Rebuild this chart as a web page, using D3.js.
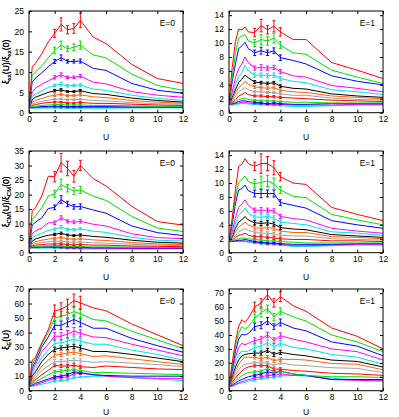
<!DOCTYPE html>
<html><head><meta charset="utf-8">
<script src="https://cdn.jsdelivr.net/npm/d3@7"></script>
<style>body{margin:0;background:#fff}text{font-family:"Liberation Sans",Arial,sans-serif}</style>
</head><body><svg id="c" width="399" height="417"></svg>
<script>
// U grids
const U0 = [0,0.25,0.5,1,1.5,2,2.5,3,3.5,4,5,6,8,10,12];
const U1 = [0,0.25,0.5,0.75,1,1.25,1.5,2,2.5,3,3.5,4,5,6,8,10,12];
const errU = [2,2.5,3,3.5,4];
const colors = ["#ff0000","#00e000","#0000ff","#ff00ff","#00e0e0","#000000","#ff6000","#a0a0a0","#ff0000","#00e000","#0000ff","#ff00ff","#00e0e0"];
const xTicks = [0,2,4,6,8,10,12];

// xi_xx, E=0
const xxE0 = [
[1.2,11.2,12.1,14.5,17.4,19.5,21.7,20.4,20.7,22.7,18.6,17.0,11.9,8.4,7.2],
[1.2,9.2,10.0,11.5,13.5,15.3,16.6,15.7,16.1,16.6,14.2,13.5,9.5,6.7,5.5],
[1.2,7.5,8.5,9.8,11.3,12.6,13.5,12.6,12.6,12.7,10.9,10.4,7.2,5.5,4.8],
[1.2,5.0,6.0,7.0,7.8,8.7,9.3,8.7,8.7,9.0,7.5,7.1,5.2,4.3,3.8],
[1.2,4.0,4.6,5.4,6.2,6.7,7.0,6.6,6.7,6.8,5.8,5.5,4.3,3.5,3.0],
[1.2,3.2,3.8,4.4,5.0,5.4,5.6,5.2,5.2,5.4,4.7,4.5,3.6,3.0,2.6],
[1.2,2.6,3.0,3.5,4.0,4.3,4.5,4.2,4.2,4.4,3.9,3.7,3.0,2.6,2.3],
[1.2,2.1,2.4,2.8,3.1,3.3,3.4,3.2,3.2,3.3,3.0,2.9,2.5,2.2,2.1],
[1.2,1.8,2.0,2.3,2.5,2.6,2.6,2.4,2.4,2.5,2.3,2.3,2.1,1.9,1.8],
[1.2,1.5,1.6,1.8,1.9,2.0,2.0,1.9,1.9,1.9,1.8,1.8,1.7,1.6,1.6],
[1.2,1.3,1.4,1.5,1.55,1.6,1.6,1.5,1.5,1.5,1.5,1.5,1.4,1.4,1.4],
[1.2,1.2,1.25,1.3,1.35,1.35,1.35,1.3,1.3,1.3,1.3,1.3,1.3,1.3,1.3],
[1.2,1.1,1.1,1.15,1.15,1.15,1.15,1.1,1.1,1.1,1.1,1.1,1.15,1.2,1.2]];
const xxE0err = [[1.0,1.6,1.0,1.2,1.8],[0.8,1.0,0.7,0.8,1.0],[0.5,0.7,0.4,0.4,0.5],[0.4,0.5,0.3,0.3,0.4],[0.3,0.4,0.3,0.3,0.3],[0.3,0.3,0.2,0.2,0.3],[0.3,0.3,0.2,0.2,0.3],[0.2,0.2,0.2,0.2,0.2],[0.2,0.2,0.15,0.15,0.2],[0.1,0.1,0.1,0.1,0.1],[0.1,0.1,0.1,0.1,0.1],[0.05,0.05,0.05,0.05,0.05],[0.05,0.05,0.05,0.05,0.05]];

// xi_xx, E=1
const xxE1 = [
[1.2,6.5,10.2,12.0,11.9,12.3,11.6,11.5,12.5,11.9,12.4,11.6,10.5,10.5,7.2,6.1,4.9],
[1.2,5.0,8.5,10.7,11.0,11.2,10.3,10.0,10.5,10.3,10.7,9.7,8.6,8.4,6.1,5.1,4.2],
[1.2,4.5,7.0,9.2,9.6,10.1,9.2,8.6,8.9,8.6,8.9,7.9,7.5,7.0,5.3,4.5,4.0],
[1.2,3.0,5.0,6.3,7.0,8.0,7.2,6.4,6.5,6.4,6.5,5.9,5.3,5.1,3.9,3.5,3.0],
[1.2,2.5,4.0,5.2,5.8,6.8,6.0,5.4,5.4,5.3,5.4,4.9,4.5,4.3,3.3,3.0,2.6],
[1.2,2.2,3.3,4.3,4.8,5.4,5.0,4.4,4.3,4.2,4.3,3.8,3.5,3.4,2.7,2.4,2.2],
[1.2,1.9,2.8,3.6,4.0,4.5,4.1,3.7,3.6,3.5,3.6,3.2,3.0,2.9,2.4,2.2,2.0],
[1.2,1.7,2.3,3.0,3.3,3.6,3.3,3.0,3.0,2.9,2.9,2.7,2.5,2.5,2.1,1.9,1.8],
[1.2,1.5,1.9,2.4,2.6,2.9,2.6,2.4,2.4,2.3,2.3,2.2,2.1,2.0,1.8,1.7,1.6],
[1.2,1.4,1.6,1.9,2.0,2.1,1.9,1.8,1.7,1.7,1.7,1.6,1.5,1.5,1.4,1.4,1.4],
[1.2,1.3,1.4,1.6,1.7,1.7,1.6,1.5,1.4,1.3,1.4,1.3,1.2,1.2,1.3,1.3,1.3],
[1.2,1.2,1.3,1.4,1.5,1.5,1.4,1.3,1.3,1.2,1.2,1.2,1.1,1.1,1.1,1.2,1.2],
[1.2,1.1,1.2,1.25,1.3,1.3,1.25,1.2,1.15,1.1,1.1,1.0,0.9,0.9,1.0,1.1,1.1]];
const xxE1err = [[0.6,0.9,0.6,0.8,0.6],[0.5,0.7,0.6,0.7,0.5],[0.4,0.5,0.4,0.4,0.4],[0.3,0.4,0.3,0.3,0.3],[0.3,0.3,0.3,0.3,0.3],[0.2,0.2,0.2,0.2,0.2],[0.2,0.2,0.2,0.2,0.2],[0.15,0.15,0.15,0.15,0.15],[0.15,0.15,0.15,0.15,0.15],[0.1,0.1,0.1,0.1,0.1],[0.1,0.1,0.1,0.1,0.1],[0.05,0.05,0.05,0.05,0.05],[0.05,0.05,0.05,0.05,0.05]];

// xi_CM, E=0
const cmE0 = [
[1.6,14.3,15.5,19.5,26.3,26.2,31.0,29.0,26.3,30.0,25.5,23.0,16.0,10.7,9.5],
[1.6,11.5,12.7,15.5,19.5,20.3,23.5,22.2,21.2,21.6,19.5,18.0,12.5,8.5,7.3],
[1.6,9.5,10.5,12.0,15.2,15.6,18.3,16.8,15.8,15.9,14.7,13.6,9.2,6.9,5.9],
[1.6,6.5,7.5,8.5,10.3,10.3,12.0,10.8,10.5,10.8,9.8,9.2,6.5,5.2,4.8],
[1.6,5.0,5.8,6.7,7.7,8.0,8.8,8.0,7.9,8.2,7.4,7.0,5.3,4.3,4.0],
[1.6,4.0,4.7,5.4,6.0,6.3,6.7,6.1,5.9,6.1,5.6,5.3,4.3,3.6,3.3],
[1.6,3.2,3.8,4.3,4.7,4.9,5.2,4.8,4.6,4.8,4.4,4.2,3.5,3.0,2.8],
[1.6,2.7,3.1,3.5,3.8,3.9,4.0,3.7,3.6,3.7,3.4,3.3,2.9,2.6,2.4],
[1.6,2.3,2.6,2.8,3.0,3.0,3.1,2.8,2.7,2.8,2.6,2.6,2.3,2.2,2.1],
[1.6,2.0,2.1,2.3,2.4,2.4,2.4,2.2,2.1,2.1,2.0,2.0,1.9,1.8,1.8],
[1.6,1.8,1.9,2.0,2.0,2.0,2.0,1.9,1.8,1.8,1.7,1.7,1.6,1.6,1.6],
[1.6,1.7,1.7,1.8,1.8,1.8,1.7,1.6,1.6,1.6,1.5,1.5,1.4,1.4,1.5],
[1.6,1.6,1.6,1.6,1.6,1.6,1.5,1.4,1.4,1.3,1.3,1.3,1.3,1.3,1.4]];
const cmE0err = [[1.8,3.2,2.5,2.0,1.8],[1.2,1.8,1.3,1.2,1.2],[0.8,1.3,0.9,0.8,0.9],[0.6,0.7,0.5,0.5,0.6],[0.5,0.6,0.4,0.4,0.4],[0.4,0.4,0.3,0.3,0.4],[0.4,0.4,0.3,0.3,0.3],[0.3,0.3,0.3,0.3,0.3],[0.3,0.3,0.3,0.3,0.3],[0.2,0.2,0.2,0.2,0.2],[0.2,0.2,0.2,0.2,0.2],[0.1,0.1,0.1,0.1,0.1],[0.1,0.1,0.1,0.1,0.1]];

// xi_CM, E=1
const cmE1 = [
[1.6,5.0,9.0,12.4,12.7,13.5,12.8,12.4,12.8,12.8,12.2,10.9,10.0,9.8,6.5,5.5,4.6],
[1.6,4.5,8.0,10.1,10.5,11.0,10.2,9.9,10.1,10.3,9.9,9.0,8.1,7.9,5.5,4.7,4.0],
[1.6,4.0,7.0,9.0,9.2,9.7,8.9,8.5,8.5,8.5,8.5,7.2,6.8,6.4,4.6,4.0,3.5],
[1.6,3.0,5.0,6.5,7.0,7.6,6.8,6.1,6.1,6.1,6.0,5.2,4.9,4.7,3.5,3.1,2.8],
[1.6,2.5,4.2,5.4,5.8,6.4,5.7,5.1,5.1,5.2,5.0,4.4,4.2,4.0,3.0,2.8,2.5],
[1.6,2.3,3.5,4.4,4.7,5.2,4.7,4.3,4.2,4.3,4.1,3.6,3.4,3.3,2.6,2.4,2.2],
[1.6,2.1,3.0,3.7,4.0,4.4,4.0,3.6,3.5,3.6,3.5,3.1,2.9,2.9,2.3,2.2,2.0],
[1.6,1.9,2.5,3.0,3.2,3.5,3.2,2.9,2.8,2.8,2.7,2.5,2.4,2.4,2.0,1.9,1.8],
[1.6,1.8,2.2,2.5,2.6,2.8,2.5,2.3,2.3,2.2,2.1,2.0,1.9,1.9,1.7,1.7,1.6],
[1.6,1.7,1.9,2.0,2.1,2.1,2.0,1.9,1.8,1.7,1.7,1.6,1.5,1.4,1.4,1.4,1.4],
[1.6,1.6,1.7,1.8,1.8,1.9,1.8,1.6,1.5,1.4,1.4,1.3,1.2,1.2,1.2,1.3,1.3],
[1.6,1.6,1.7,1.7,1.7,1.7,1.6,1.5,1.4,1.3,1.3,1.2,1.0,1.0,1.1,1.2,1.2],
[1.6,1.6,1.6,1.6,1.6,1.6,1.5,1.4,1.3,1.2,1.2,1.1,0.9,0.9,1.0,1.1,1.1]];
const cmE1err = [[0.6,1.4,1.0,1.0,0.6],[0.6,0.9,0.8,0.8,0.5],[0.5,0.6,0.5,0.5,0.4],[0.3,0.4,0.3,0.3,0.3],[0.3,0.4,0.3,0.3,0.3],[0.3,0.3,0.3,0.3,0.3],[0.3,0.3,0.3,0.3,0.3],[0.2,0.2,0.2,0.2,0.2],[0.2,0.2,0.2,0.2,0.2],[0.1,0.1,0.1,0.1,0.1],[0.1,0.1,0.1,0.1,0.1],[0.1,0.1,0.1,0.1,0.1],[0.1,0.1,0.1,0.1,0.1]];

// xi_E, E=0
const eE0 = [
[3,21,23,33,42,55,56,58.5,62,60.5,57,55,46,38.5,31],
[3,18,22,32,40,50,51,52.5,54.5,53,49,48,41,35,29],
[3,16,20,30,37,45,45,47,49,47,43,43,36,31,26.5],
[3,14,18,27,32,37.5,37.5,39,41,39.5,37,36.5,32,28,24],
[3,12,16,23,28,32.5,33,34,35.5,34,32,32,28,25,21],
[3,10,13,20,25,28.5,29.5,30,30.5,29.5,27,27,25,22.5,20],
[3,8,11,17,21,24.5,25,26,26.5,25.5,23.5,24,22,20,18],
[3,7,9,14,17,20,20,20.5,21,20.5,19.5,20,19,18,16.5],
[3,6,7.5,11,14,17.5,17,17,17.5,16.5,16,17,16,15,14.5],
[3,5,6,8.5,11,13,13.5,14,14.5,14,12.5,12.5,12,11.5,11],
[3,4,5,6.5,8,9.5,10,11,13,12.5,11,10.5,10,10,10],
[3,3.5,4,5.5,7,8.5,9,9.5,11.5,12,11,10,9,8.5,8.5],
[3,3,3.5,4.5,5.5,6.5,7,7.5,9,9.5,10,10,9,8,7]];
const eE0err = [[4,4.5,4.5,4.5,4.5],[3.5,3.5,3.5,3.5,3.5],[3,3,3,3,3],[2.5,2.5,2.5,2.5,2.5],[2,2,2,2,2],[1.5,1.5,1.5,1.5,1.5],[1.5,1.5,1.5,1.5,1.5],[1.5,1.5,1.5,1.5,1.5],[1,1,1,1,1],[1,1,1,1,1],[0.8,0.8,0.8,0.8,0.8],[0.8,0.8,0.8,0.8,0.8],[0.6,0.6,0.6,0.6,0.6]];

// xi_E, E=1
const eE1 = [
[3,20,35,46,51,49,52,60,63,69,63,67.5,61,57,45,39,30],
[3,18,32,41,46,44,46,52,56,59,53,57,53,50,40,35,28],
[3,16,28,37,40.5,40,41,46,47,50,46,49,45,43,35,32,25],
[3,14,24,31,34,33,34,36,37,40,36,39.5,37,35,30,28,22],
[3,12,20,26,28.5,28,28.5,31,32,34.5,31.5,34,31,30,26,24,19],
[3,10,17,22,25,26,26.5,27,27,29,26,27.5,26,25,22,21,17],
[3,8,14,19,22,24,24,24,23,24,21.5,22.5,22.5,22,19.5,19,15],
[3,7,11,15,17.5,19,19.5,20,20,20,18,20,18.5,18,16.5,16,13],
[3,6,9,12,14,16,17,18,18,18,15.5,15.5,14.5,14,12.5,12,11],
[3,5,7,9,10.5,12,13,13.5,14,16,13.5,14,12,11,10,10,9.5],
[3,4,5.5,7,8,9,10,11,12,13.5,12.5,14,12,11,8,8,8],
[3,3.5,4.5,5.5,6.5,7,8,9,10,11,11,12,11,11,8,7.5,7],
[3,3,4,5,5.5,6,7,7.5,8.5,9.5,9.5,10.5,11,10.5,9,7.5,7]];
const eE1err = [[3.5,3,3.5,3,3.5],[3,3,2.5,2.5,2.5],[2.5,2.5,2.5,2,2.5],[2,2,2,2,2],[2,2,2,2,2],[1.5,1.5,1.5,1.5,1.5],[1.2,1.2,1.2,1.2,1.2],[1,1,1,1,1],[1,1,1,1,1],[0.8,0.8,0.8,0.8,0.8],[0.8,0.8,0.8,0.8,0.8],[0.6,0.6,0.6,0.6,0.6],[0.6,0.6,0.6,0.6,0.6]];

const panels = [
 {d:xxE0, e:xxE0err, xs:U0, ymax:25, yt:d3.range(0,26,5), sub:"xx", lab:"E=0", col:0, row:0},
 {d:xxE1, e:xxE1err, xs:U1, ymax:14.6, yt:d3.range(0,15,2), sub:"xx", lab:"E=1", col:1, row:0},
 {d:cmE0, e:cmE0err, xs:U0, ymax:35, yt:d3.range(0,36,5), sub:"CM", lab:"E=0", col:0, row:1},
 {d:cmE1, e:cmE1err, xs:U1, ymax:14.6, yt:d3.range(0,15,2), sub:"CM", lab:"E=1", col:1, row:1},
 {d:eE0, e:eE0err, xs:U0, ymax:70, yt:d3.range(0,71,10), sub:"E", lab:"E=0", col:0, row:2, plain:true},
 {d:eE1, e:eE1err, xs:U1, ymax:73, yt:d3.range(0,71,10), sub:"E", lab:"E=1", col:1, row:2, plain:true}
];

const svg = d3.select("#c");
const colX = [29, 229], rowY = [11, 151, 289], W = 154, H = 101.7;
const fs = 8.5;

panels.forEach(p => {
  const x0 = colX[p.col], y0 = rowY[p.row];
  const g = svg.append("g").attr("transform", `translate(${x0},${y0})`);
  const x = d3.scaleLinear().domain([0,12]).range([0,W]);
  const y = d3.scaleLinear().domain([0,p.ymax]).range([H,0]);
  const clip = "clip" + p.col + p.row;
  g.append("clipPath").attr("id", clip).append("rect").attr("width", W).attr("height", H);
  const pl = g.append("g").attr("clip-path", `url(#${clip})`);
  const line = d3.line().x((v,i)=>x(p.xs[i])).y(v=>y(v));
  for (let s = p.d.length-1; s >= 0; s--) {
    const c = colors[s];
    pl.append("path").attr("d", line(p.d[s])).attr("fill","none").attr("stroke",c).attr("stroke-width",1);
    errU.forEach((u,k) => {
      const i = p.xs.indexOf(u);
      const v = p.d[s][i], e = p.e[s][k];
      const xx = x(u);
      pl.append("line").attr("x1",xx).attr("x2",xx).attr("y1",y(v-e)).attr("y2",y(v+e)).attr("stroke",c).attr("stroke-width",1);
      [v-e, v+e].forEach(w => pl.append("line").attr("x1",xx-1.5).attr("x2",xx+1.5).attr("y1",y(w)).attr("y2",y(w)).attr("stroke",c).attr("stroke-width",1));
    });
  }
  const ax = (a, tr) => { const gg = g.append("g").attr("transform", tr).call(a); gg.select(".domain").remove(); gg.selectAll("text").style("font-size", fs+"px").attr("fill","#000"); gg.selectAll("line").attr("stroke","#000"); return gg; };
  ax(d3.axisBottom(x).tickValues(xTicks).tickSizeInner(-3).tickSizeOuter(0).tickPadding(3.5), `translate(0,${H})`);
  ax(d3.axisTop(x).tickValues(xTicks).tickSizeInner(-3).tickSizeOuter(0).tickFormat(""), "translate(0,0)");
  ax(d3.axisLeft(y).tickValues(p.yt).tickSizeInner(-3).tickSizeOuter(0).tickPadding(5), "translate(0,0)");
  ax(d3.axisRight(y).tickValues(p.yt).tickSizeInner(-3).tickSizeOuter(0).tickFormat(""), `translate(${W},0)`);
  g.append("rect").attr("width",W).attr("height",H).attr("fill","none").attr("stroke","#000").attr("stroke-width",1);
  const uy = Math.min(H + 27, 415 - y0);
  g.append("text").attr("x", W/2).attr("y", uy).attr("text-anchor","middle").style("font-size", fs+"px").text("U");
  g.append("text").attr("x", W-8).attr("y", 15).attr("text-anchor","end").style("font-size", fs+"px").text(p.lab);
  const yl = g.append("text").attr("transform", `translate(${-x0+8.5},${H/2}) rotate(-90)`).attr("text-anchor","middle").style("font-size", fs+"px");
  yl.append("tspan").text("ξ");
  yl.append("tspan").attr("dy", 2).style("font-size", "6px").text(p.sub);
  yl.append("tspan").attr("dy", -2).text("(U)");
  if (!p.plain) {
    yl.append("tspan").text("/ξ");
    yl.append("tspan").attr("dy", 2).style("font-size", "6px").text(p.sub);
    yl.append("tspan").attr("dy", -2).text("(0)");
  }
});
</script></body></html>
